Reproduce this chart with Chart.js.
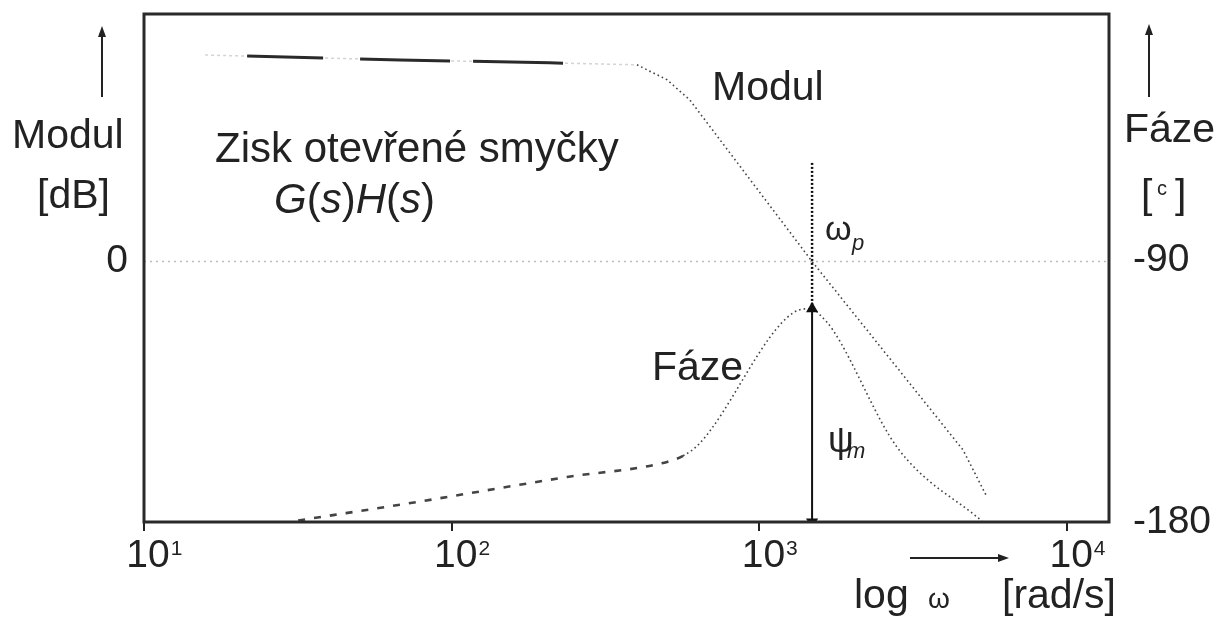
<!DOCTYPE html>
<html>
<head>
<meta charset="utf-8">
<script src="https://cdn.jsdelivr.net/npm/chart.js@4.4.1/dist/chart.umd.min.js"></script>
<style>
  html, body { margin: 0; padding: 0; background: #fff; }
  canvas { display: block; }
</style>
</head>
<body>
<canvas id="bode" width="1230" height="624"></canvas>
<script>
// Open-loop gain magnitude (dB) against angular frequency (rad/s)
const modulFreq = [15.8, 67.9, 208, 400, 501, 594, 1483, 4590, 5495];
const modulDb   = [31.7, 30.95, 30.5, 30.2, 27.9, 24.8, 0, -28.95, -36.2];

// Phase of the open-loop gain (degrees)
const phaseFreq = [31.7, 77.1, 237, 501, 565, 641, 1285, 1483, 1574, 1734, 2800, 5285];
const phaseDeg  = [-179.5, -173.1, -164.5, -159.3, -157.2, -152.8, -108.0, -106.5, -108.7, -113.9, -154.2, -179.7];

// Crossover frequency and phase margin marker
const crossFreq = 1483;
const crossGuideDeg = [-56.3, -106.5];   // dotted guide above the peak
const marginDeg = [-106.5, -180];        // phase margin arrow

// Axis ranges and ticks
const freqMin = 10, freqMax = 13680;
const dbMin = -40, dbMax = 38;
const degMin = -180, degMax = -5;
const freqTicks = [10, 100, 1000, 10000];
const freqTickExp = ['1', '2', '3', '4'];
const dbTicks = [0];
const degTicks = [-180, -90];

const FONT = "'Liberation Sans', Arial, Helvetica, sans-serif";
const INK = '#222';

const pts = (xs, ys) => xs.map((x, i) => ({ x, y: ys[i] }));
const FLAT = 3; // segments before this index form the low-frequency plateau

function arrowHead(ctx, x, y, dir) {
  // dir: 'up' or 'right'
  ctx.beginPath();
  if (dir === 'up') {
    ctx.moveTo(x, y); ctx.lineTo(x - 4, y + 11); ctx.lineTo(x + 4, y + 11);
  } else {
    ctx.moveTo(x, y); ctx.lineTo(x - 11, y - 4); ctx.lineTo(x - 11, y + 4);
  }
  ctx.closePath();
  ctx.fill();
}

// vertical axes must not reserve extra room above/below the plot
const noEdgePadding = s => { s.paddingTop = 0; s.paddingBottom = 0; };

const decorations = {
  id: 'decorations',
  afterDraw(chart) {
    const { ctx, chartArea: a, scales } = chart;
    ctx.save();

    // plot frame
    ctx.strokeStyle = '#2a2a2a';
    ctx.lineWidth = 3;
    ctx.strokeRect(a.left, a.top, a.right - a.left, a.bottom - a.top);

    ctx.fillStyle = INK;
    ctx.strokeStyle = INK;
    ctx.textBaseline = 'alphabetic';

    // frequency tick labels 10^n
    freqTicks.forEach((v, i) => {
      const px = scales.x.getPixelForValue(v);
      ctx.font = `39px ${FONT}`;
      ctx.textAlign = 'center';
      ctx.fillText('10', px + 4, 567);
      const w = ctx.measureText('10').width;
      ctx.font = `21px ${FONT}`;
      ctx.textAlign = 'left';
      ctx.fillText(freqTickExp[i], px + 4 + w / 2 + 1, 555);
    });

    ctx.textAlign = 'left';
    // left axis title
    ctx.font = `41px ${FONT}`;
    ctx.fillText('Modul', 12, 148);
    ctx.fillText('[dB]', 37, 208);
    // right axis title
    ctx.fillText('Fáze', 1124, 142);
    ctx.fillText('[', 1141, 208);
    ctx.fillText(']', 1175, 208);
    ctx.font = `20px ${FONT}`;
    ctx.fillText('c', 1157, 195);

    // curve labels
    ctx.font = `41px ${FONT}`;
    ctx.fillText('Modul', 712, 100);
    ctx.fillText('Fáze', 652, 380);
    ctx.font = `42px ${FONT}`;
    ctx.fillText('Zisk otevřené smyčky', 215, 162);

    // G(s)H(s)
    let gx = 274;
    const parts = [['G', true], ['(', false], ['s', true], [')', false], ['H', true], ['(', false], ['s', true], [')', false]];
    parts.forEach(([t, it]) => {
      ctx.font = `${it ? 'italic ' : ''}42px ${FONT}`;
      ctx.fillText(t, gx, 213);
      gx += ctx.measureText(t).width;
    });

    // omega_p and psi_m
    ctx.font = `34px ${FONT}`;
    ctx.fillText('ω', 825, 240);
    ctx.font = `italic 22px ${FONT}`;
    ctx.fillText('p', 852, 250);
    ctx.font = `36px ${FONT}`;
    ctx.fillText('ψ', 828, 452);
    ctx.font = `italic 22px ${FONT}`;
    ctx.fillText('m', 847, 458);

    // frequency axis caption
    ctx.font = `41px ${FONT}`;
    ctx.fillText('log', 854, 608);
    ctx.font = `28px ${FONT}`;
    ctx.fillText('ω', 928, 608);
    ctx.font = `41px ${FONT}`;
    ctx.fillText('[rad/s]', 1002, 608);

    // direction arrows
    ctx.lineWidth = 2;
    ctx.beginPath();
    ctx.moveTo(102, 97); ctx.lineTo(102, 34);
    ctx.moveTo(1149, 97); ctx.lineTo(1149, 32);
    ctx.moveTo(910, 558); ctx.lineTo(1000, 558);
    ctx.stroke();
    arrowHead(ctx, 102, 26, 'up');
    arrowHead(ctx, 1149, 24, 'up');
    arrowHead(ctx, 1009, 558, 'right');

    ctx.restore();
  }
};

new Chart(document.getElementById('bode'), {
  type: 'line',
  data: {
    datasets: [
      {
        // phase margin arrow
        data: pts([crossFreq, crossFreq], marginDeg),
        yAxisID: 'yPh',
        borderColor: '#111',
        backgroundColor: '#111',
        borderWidth: 2,
        pointStyle: 'triangle',
        pointRadius: 5,
        pointRotation: [0, 180],
        order: 0
      },
      {
        // crossover guide
        data: pts([crossFreq, crossFreq], crossGuideDeg),
        yAxisID: 'yPh',
        borderColor: '#111',
        borderWidth: 2.5,
        borderDash: [2, 2],
        pointRadius: 0,
        order: 1
      },
      {
        label: 'Modul',
        data: pts(modulFreq, modulDb),
        yAxisID: 'yDb',
        borderColor: '#444',
        borderWidth: 1.6,
        borderDash: [1.6, 3],
        pointRadius: 0,
        tension: 0,
        segment: {
          borderDash: c => (c.p0DataIndex < FLAT ? [0, 42, 76, 37, 90, 23, 90, 70] : [1.6, 3]),
          borderWidth: c => (c.p0DataIndex < FLAT ? 3 : 1.6),
          borderColor: c => (c.p0DataIndex < FLAT ? '#2a2a2a' : '#444')
        },
        order: 2
      },
      {
        // faint trace along the plateau between the heavy strokes
        data: pts(modulFreq.slice(0, FLAT + 1), modulDb.slice(0, FLAT + 1)),
        yAxisID: 'yDb',
        borderColor: '#d4d4d4',
        borderWidth: 1.5,
        borderDash: [3, 3],
        pointRadius: 0,
        order: 5
      },
      {
        label: 'Fáze',
        data: pts(phaseFreq, phaseDeg),
        yAxisID: 'yPh',
        borderColor: '#444',
        borderWidth: 1.6,
        pointRadius: 0,
        cubicInterpolationMode: 'monotone',
        segment: {
          borderDash: c => (c.p0DataIndex < 4 ? [7, 9] : [1.6, 3]),
          borderWidth: c => (c.p0DataIndex < 4 ? 2.6 : 1.6)
        },
        order: 3
      },
      {
        // 0 dB / -90 deg reference
        data: pts([freqMin, freqMax], [0, 0]),
        yAxisID: 'yDb',
        borderColor: '#bdbdbd',
        borderWidth: 1.5,
        borderDash: [2, 4],
        pointRadius: 0,
        order: 4
      }
    ]
  },
  options: {
    responsive: false,
    animation: false,
    devicePixelRatio: 1,
    layout: { padding: { top: 14, left: 0, right: 0, bottom: 0 } },
    plugins: { legend: { display: false }, tooltip: { enabled: false } },
    scales: {
      x: {
        type: 'logarithmic',
        min: freqMin,
        max: freqMax,
        position: 'bottom',
        afterBuildTicks: s => { s.ticks = freqTicks.map(v => ({ value: v })); },
        afterFit: s => { s.height = 102; s.paddingLeft = 0; s.paddingRight = 0; },
        ticks: { display: false },
        border: { display: false },
        grid: { drawOnChartArea: false, drawTicks: true, tickLength: 9, color: INK, lineWidth: 2 }
      },
      yDb: {
        type: 'linear',
        position: 'left',
        min: dbMin,
        max: dbMax,
        afterBuildTicks: s => { s.ticks = dbTicks.map(v => ({ value: v })); },
        afterFit: s => { s.width = 144; noEdgePadding(s); },
        ticks: { color: INK, font: { family: FONT, size: 39 }, padding: 16 },
        border: { display: false },
        grid: { display: false, drawTicks: false }
      },
      yPh: {
        type: 'linear',
        position: 'right',
        min: degMin,
        max: degMax,
        afterBuildTicks: s => { s.ticks = degTicks.map(v => ({ value: v })); },
        afterFit: s => { s.width = 121; noEdgePadding(s); },
        ticks: { color: INK, font: { family: FONT, size: 39 }, padding: 24 },
        border: { display: false },
        grid: { display: false, drawTicks: false }
      }
    }
  },
  plugins: [decorations]
});
</script>
</body>
</html>
